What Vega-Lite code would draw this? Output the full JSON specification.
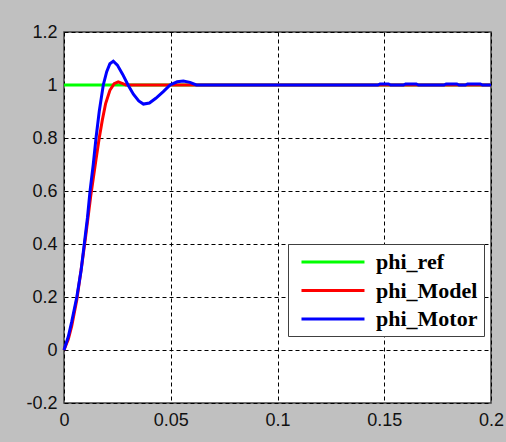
{
  "$schema": "https://vega.github.io/schema/vega-lite/v6.json",
  "width": 427,
  "height": 371,
  "autosize": {"type": "none"},
  "padding": {"left": 64, "top": 32, "right": 15, "bottom": 39},
  "background": "#c0c0c0",
  "config": {
    "view": {"fill": "white", "stroke": "#404040", "strokeWidth": 1.5},
    "axis": {
      "domain": false,
      "ticks": false,
      "grid": true,
      "gridColor": "black",
      "gridDash": [4, 3],
      "gridWidth": 1,
      "gridOpacity": 1,
      "labelFont": "Liberation Sans",
      "labelFontSize": 18,
      "labelColor": "#111",
      "title": null
    }
  },
  "datasets": {
    "curves": [
      {"t": 0, "v": 1, "s": "phi_ref"},
      {"t": 0.2, "v": 1, "s": "phi_ref"},

      {"t": 0, "v": 0, "s": "phi_Model"},
      {"t": 0.002, "v": 0.04, "s": "phi_Model"},
      {"t": 0.0036, "v": 0.09, "s": "phi_Model"},
      {"t": 0.006, "v": 0.19, "s": "phi_Model"},
      {"t": 0.0085, "v": 0.33, "s": "phi_Model"},
      {"t": 0.010, "v": 0.42, "s": "phi_Model"},
      {"t": 0.0125, "v": 0.58, "s": "phi_Model"},
      {"t": 0.015, "v": 0.72, "s": "phi_Model"},
      {"t": 0.0165, "v": 0.8, "s": "phi_Model"},
      {"t": 0.018, "v": 0.87, "s": "phi_Model"},
      {"t": 0.0195, "v": 0.93, "s": "phi_Model"},
      {"t": 0.0215, "v": 0.98, "s": "phi_Model"},
      {"t": 0.0235, "v": 1.005, "s": "phi_Model"},
      {"t": 0.0254, "v": 1.012, "s": "phi_Model"},
      {"t": 0.0275, "v": 1.005, "s": "phi_Model"},
      {"t": 0.029, "v": 1.0, "s": "phi_Model"},
      {"t": 0.2, "v": 1.0, "s": "phi_Model"},

      {"t": 0, "v": 0, "s": "phi_Motor"},
      {"t": 0.002, "v": 0.05, "s": "phi_Motor"},
      {"t": 0.0036, "v": 0.106, "s": "phi_Motor"},
      {"t": 0.006, "v": 0.2, "s": "phi_Motor"},
      {"t": 0.008, "v": 0.3, "s": "phi_Motor"},
      {"t": 0.0095, "v": 0.4, "s": "phi_Motor"},
      {"t": 0.011, "v": 0.5, "s": "phi_Motor"},
      {"t": 0.0122, "v": 0.6, "s": "phi_Motor"},
      {"t": 0.0137, "v": 0.7, "s": "phi_Motor"},
      {"t": 0.015, "v": 0.8, "s": "phi_Motor"},
      {"t": 0.0165, "v": 0.9, "s": "phi_Motor"},
      {"t": 0.0184, "v": 1.0, "s": "phi_Motor"},
      {"t": 0.02, "v": 1.05, "s": "phi_Motor"},
      {"t": 0.0215, "v": 1.08, "s": "phi_Motor"},
      {"t": 0.0231, "v": 1.09, "s": "phi_Motor"},
      {"t": 0.025, "v": 1.075, "s": "phi_Motor"},
      {"t": 0.0275, "v": 1.04, "s": "phi_Motor"},
      {"t": 0.03, "v": 1.0, "s": "phi_Motor"},
      {"t": 0.0325, "v": 0.965, "s": "phi_Motor"},
      {"t": 0.035, "v": 0.94, "s": "phi_Motor"},
      {"t": 0.0372, "v": 0.928, "s": "phi_Motor"},
      {"t": 0.04, "v": 0.932, "s": "phi_Motor"},
      {"t": 0.043, "v": 0.95, "s": "phi_Motor"},
      {"t": 0.0465, "v": 0.975, "s": "phi_Motor"},
      {"t": 0.0497, "v": 1.0, "s": "phi_Motor"},
      {"t": 0.053, "v": 1.012, "s": "phi_Motor"},
      {"t": 0.0559, "v": 1.015, "s": "phi_Motor"},
      {"t": 0.059, "v": 1.01, "s": "phi_Motor"},
      {"t": 0.062, "v": 1.0, "s": "phi_Motor"},
      {"t": 0.147, "v": 1.0, "s": "phi_Motor"},
      {"t": 0.148, "v": 1.004, "s": "phi_Motor"},
      {"t": 0.152, "v": 1.004, "s": "phi_Motor"},
      {"t": 0.153, "v": 1.0, "s": "phi_Motor"},
      {"t": 0.159, "v": 1.0, "s": "phi_Motor"},
      {"t": 0.16, "v": 1.004, "s": "phi_Motor"},
      {"t": 0.165, "v": 1.004, "s": "phi_Motor"},
      {"t": 0.166, "v": 1.0, "s": "phi_Motor"},
      {"t": 0.178, "v": 1.0, "s": "phi_Motor"},
      {"t": 0.179, "v": 1.004, "s": "phi_Motor"},
      {"t": 0.184, "v": 1.004, "s": "phi_Motor"},
      {"t": 0.185, "v": 1.0, "s": "phi_Motor"},
      {"t": 0.188, "v": 1.0, "s": "phi_Motor"},
      {"t": 0.189, "v": 1.004, "s": "phi_Motor"},
      {"t": 0.195, "v": 1.004, "s": "phi_Motor"},
      {"t": 0.196, "v": 1.0, "s": "phi_Motor"},
      {"t": 0.2, "v": 1.0, "s": "phi_Motor"}
    ]
  },
  "data": {"name": "curves"},
  "encoding": {
    "x": {
      "field": "t", "type": "quantitative",
      "scale": {"domain": [0, 0.2], "nice": false, "zero": false},
      "axis": {"values": [0, 0.05, 0.1, 0.15, 0.2], "format": ".2~f", "labelPadding": 8, "labelFlush": false}
    },
    "y": {
      "field": "v", "type": "quantitative",
      "scale": {"domain": [-0.2, 1.2], "nice": false, "zero": false},
      "axis": {
        "values": [-0.2, 0, 0.2, 0.4, 0.6, 0.8, 1, 1.2],
        "format": ".1~f",
        "labelExpr": "replace(datum.label, '\u2212', '-')",
        "labelPadding": 7,
        "labelFlush": false
      }
    },
    "color": {
      "field": "s", "type": "nominal",
      "scale": {"domain": ["phi_ref", "phi_Model", "phi_Motor"], "range": ["#00ff00", "#ff0000", "#0000ff"]},
      "legend": {
        "title": null,
        "orient": "none",
        "legendX": 224,
        "legendY": 212,
        "fillColor": "white",
        "strokeColor": "#404040",
        "padding": 6,
        "symbolType": "M-0.43,0H5.57",
        "symbolSize": 441,
        "symbolStrokeWidth": 3,
        "labelFont": "Liberation Serif",
        "labelFontWeight": "bold",
        "labelFontSize": 22,
        "labelColor": "black",
        "labelOffset": 58,
        "rowPadding": 5.5
      }
    }
  },
  "layer": [
    {"transform": [{"filter": "datum.s == 'phi_ref'"}], "mark": {"type": "line", "strokeWidth": 3}},
    {"transform": [{"filter": "datum.s == 'phi_Model'"}], "mark": {"type": "line", "strokeWidth": 3}},
    {"transform": [{"filter": "datum.s == 'phi_Motor'"}], "mark": {"type": "line", "strokeWidth": 3}}
  ]
}
